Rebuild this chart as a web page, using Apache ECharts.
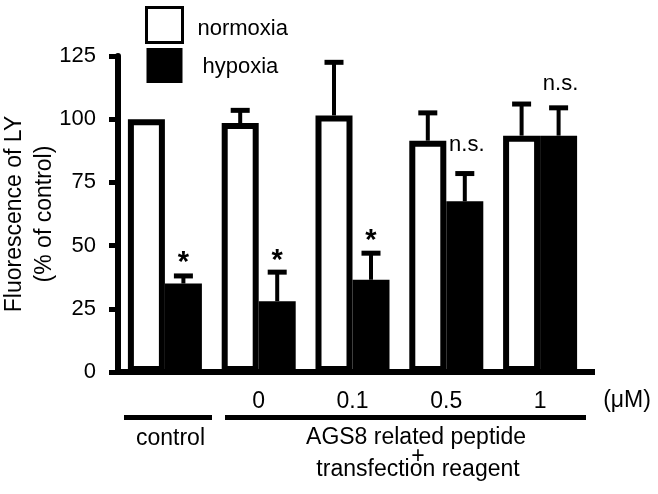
<!DOCTYPE html>
<html>
<head>
<meta charset="utf-8">
<script src="https://cdn.jsdelivr.net/npm/echarts@6/dist/echarts.min.js"></script>
<style>html,body{margin:0;padding:0;background:#fff}#c{width:658px;height:494px}</style>
</head>
<body>
<div id="c"></div>
<script>
const categories = ['', '0', '0.1', '0.5', '1'];
const normoxia = [100, 98.5, 101.5, 91.5, 93.5];
const normoxiaErr = [0, 5, 21, 11, 12.5];
const hypoxia = [35, 28, 36.5, 67.5, 93.5];
const hypoxiaErr = [3, 11.5, 10.5, 11, 11];
const annoCat = [0, 1, 2, 3, 4];
const annoY = [43.1, 43.9, 51.8, 90, 113.8];
const annoText = ['*', '*', '*', 'n.s.', 'n.s.'];

const FONT = '"Liberation Sans", Arial, Helvetica, sans-serif';
const BARW = 37;

const chart = echarts.init(document.getElementById('c'), null, {renderer: 'canvas'});

function errSeries(vals, errs, sign) {
  return {
    type: 'custom',
    z: 5,
    silent: true,
    data: vals.map((v, i) => [i, v, errs[i]]),
    encode: {x: 0, y: 1},
    renderItem: function (params, api) {
      const i = api.value(0), v = api.value(1), e = api.value(2);
      if (!e) return null;
      const b = api.coord([i, v]);
      const t = api.coord([i, v + e]);
      const x = b[0] + sign * BARW / 2;
      return {
        type: 'group',
        children: [
          {type: 'line', shape: {x1: x, y1: b[1], x2: x, y2: t[1]}, style: {stroke: '#000', lineWidth: 4}},
          {type: 'line', shape: {x1: x - 9.5, y1: t[1], x2: x + 9.5, y2: t[1]}, style: {stroke: '#000', lineWidth: 5}}
        ]
      };
    }
  };
}

const option = {
  animation: false,
  backgroundColor: '#fff',
  textStyle: {fontFamily: FONT, color: '#000'},
  grid: {left: 118, right: 71, top: 56, bottom: 122, containLabel: false, outerBoundsMode: 'none'},
  legend: {
    orient: 'vertical', left: 145, top: 6, padding: 0,
    itemWidth: 36, itemHeight: 35, itemGap: 4, icon: 'rect',
    formatter: function (name) { return name === 'normoxia' ? '{a|' + name + '}' : '{b|' + name + '}'; },
    textStyle: {
      fontSize: 22, color: '#000', fontFamily: FONT,
      rich: {
        a: {fontSize: 22, fontFamily: FONT, color: '#000', padding: [8, 0, 0, 10]},
        b: {fontSize: 22, fontFamily: FONT, color: '#000', padding: [2, 0, 0, 15]}
      }
    },
    data: [
      {name: 'normoxia', itemStyle: {borderWidth: 3, borderColor: '#000', color: '#fff'}},
      {name: 'hypoxia', itemStyle: {color: '#000'}}
    ]
  },
  xAxis: {
    type: 'category', data: categories,
    axisLine: {lineStyle: {color: '#000', width: 6}},
    axisTick: {show: false},
    axisLabel: {fontSize: 23, color: '#000', margin: 18, fontFamily: FONT}
  },
  yAxis: {
    type: 'value', min: 0, max: 125, interval: 25,
    axisLine: {show: true, lineStyle: {color: '#000', width: 6}},
    axisTick: {show: true, length: 9, lineStyle: {color: '#000', width: 5}},
    axisLabel: {fontSize: 22, color: '#000', margin: 22, fontFamily: FONT},
    splitLine: {show: false},
    name: 'Fluorescence of LY\n(% of control)',
    nameLocation: 'middle', nameRotate: 90, nameGap: 58, nameMoveOverlap: false,
    nameTextStyle: {fontSize: 23, lineHeight: 30, color: '#000', fontFamily: FONT}
  },
  series: [
    {name: 'normoxia', type: 'bar', data: normoxia, barWidth: BARW, barGap: '0%',
     itemStyle: {color: '#fff', borderColor: '#000', borderWidth: 6}},
    {name: 'hypoxia', type: 'bar', data: hypoxia, barWidth: BARW, barGap: '0%',
     itemStyle: {color: '#000'}},
    errSeries(normoxia, normoxiaErr, -1),
    errSeries(hypoxia, hypoxiaErr, 1),
    {
      type: 'scatter', z: 6, silent: true,
      symbolSize: 1, itemStyle: {color: 'rgba(0,0,0,0)'},
      data: annoCat.map((c, k) => ({
        value: [c, annoY[k]],
        label: {
          show: true, position: 'inside', formatter: annoText[k],
          offset: [annoText[k] === '*' ? BARW / 2 : BARW / 2 + 2, 0],
          fontSize: annoText[k] === '*' ? 29 : 22,
          fontWeight: annoText[k] === '*' ? 'bold' : 'normal',
          color: '#000', fontFamily: FONT, opacity: 1,
          textBorderWidth: 0, textBorderColor: 'transparent'
        }
      }))
    }
  ],
  graphic: [
    {type: 'line', shape: {x1: 584, y1: 372, x2: 595, y2: 372}, style: {stroke: '#000', lineWidth: 6}},
    {type: 'line', shape: {x1: 124, y1: 417.5, x2: 212, y2: 417.5}, style: {stroke: '#000', lineWidth: 5}},
    {type: 'line', shape: {x1: 225, y1: 417.5, x2: 586, y2: 417.5}, style: {stroke: '#000', lineWidth: 5}},
    {type: 'text', x: 627, y: 401, style: {text: '(μM)', font: '23px ' + FONT, fill: '#000', textAlign: 'center', textVerticalAlign: 'middle'}},
    {type: 'text', x: 170.5, y: 439, style: {text: 'control', font: '23px ' + FONT, fill: '#000', textAlign: 'center', textVerticalAlign: 'middle'}},
    {type: 'text', x: 416, y: 438, style: {text: 'AGS8 related peptide', font: '23px ' + FONT, fill: '#000', textAlign: 'center', textVerticalAlign: 'middle'}},
    {type: 'text', x: 418, y: 457, style: {text: '+', font: '23px ' + FONT, fill: '#000', textAlign: 'center', textVerticalAlign: 'middle'}},
    {type: 'text', x: 418, y: 470, style: {text: 'transfection reagent', font: '23px ' + FONT, fill: '#000', textAlign: 'center', textVerticalAlign: 'middle'}}
  ]
};
chart.setOption(option);
</script>
</body>
</html>
